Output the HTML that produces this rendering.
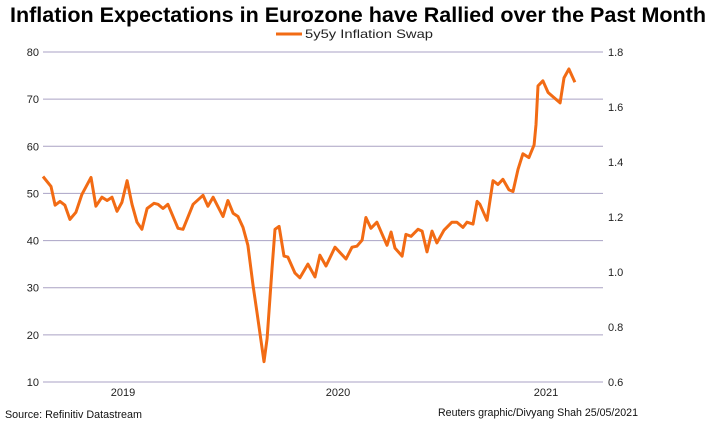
<!DOCTYPE html>
<html><head><meta charset="utf-8"><style>
html,body{margin:0;padding:0;background:#fff;}
svg{display:block;font-family:"Liberation Sans",Arial,sans-serif;}
</style></head><body>
<svg id="chart" width="716" height="441" viewBox="0 0 716 441" xmlns="http://www.w3.org/2000/svg">
<text x="10" y="22" font-size="21" font-weight="bold" textLength="696" lengthAdjust="spacingAndGlyphs" fill="#000">Inflation Expectations in Eurozone have Rallied over the Past Month</text>
<g>
<line x1="276" y1="34" x2="302" y2="34" stroke="#f26b14" stroke-width="3"/>
<text x="305" y="38" font-size="12" textLength="128" lengthAdjust="spacingAndGlyphs" fill="#222">5y5y Inflation Swap</text>
</g>
<g id="grid"></g>
<g id="ylab"></g>
<g id="ylab2"></g>
<g id="xlab"></g>
<g id="series"></g>
<text x="5" y="418" font-size="11" textLength="137" lengthAdjust="spacingAndGlyphs" fill="#111">Source: Refinitiv Datastream</text>
<text x="438" y="416" font-size="11" textLength="200" lengthAdjust="spacingAndGlyphs" fill="#111">Reuters graphic/Divyang Shah 25/05/2021</text>
</svg>
<script>
const leftTicks=[10,20,30,40,50,60,70,80];
const rightTicks=["0.6","0.8","1.0","1.2","1.4","1.6","1.8"];
const yearLabels=["2019","2020","2021"];
const times=[-.372,-.335,-.316,-.293,-.270,-.247,-.219,-.191,-.149,-.126,-.098,-.074,-.051,-.028,-.005,.019,.042,.065,.088,.112,.144,.163,.186,.209,.256,.279,.326,.372,.395,.419,.465,.488,.512,.535,.558,.581,.605,.623,.656,.670,.693,.707,.726,.749,.767,.800,.823,.860,.893,.916,.944,.986,1.037,1.065,1.088,1.112,1.130,1.153,1.181,1.228,1.247,1.265,1.298,1.316,1.340,1.372,1.391,1.414,1.437,1.460,1.493,1.530,1.553,1.581,1.600,1.628,1.647,1.660,1.693,1.721,1.744,1.767,1.795,1.814,1.837,1.860,1.888,1.912,1.921,1.930,1.953,1.977,2.0,2.033,2.051,2.074,2.102];
const values=[53.6,51.5,47.5,48.3,47.5,44.5,46,49.8,53.4,47.3,49.2,48.5,49.2,46.2,48.1,52.7,47.7,43.9,42.4,46.8,47.9,47.7,46.8,47.7,42.6,42.4,47.7,49.6,47.3,49.2,45.1,48.5,45.8,45.1,42.8,39,30.4,24.9,14.3,19.2,34,42.4,43,36.7,36.5,33.1,32.1,35,32.3,36.9,34.6,38.6,36.1,38.6,38.8,40.1,44.9,42.6,43.9,39,41.8,38.4,36.7,41.3,40.9,42.4,42,37.6,42,39.5,42.2,43.9,43.9,42.8,43.9,43.5,48.3,47.7,44.3,52.7,51.9,53,50.8,50.4,55.1,58.4,57.6,60.3,64.6,72.8,73.9,71.4,70.5,69.2,74.5,76.4,73.6];
const NS="http://www.w3.org/2000/svg";
const X0=43,X1=603,YT=52,YB=382;
const y=v=>YB-(v-10)/70*(YB-YT);
const yr=v=>YB-(v-0.6)/1.2*(YB-YT);
const x=t=>123+t*215;
function mk(tag,attrs,parent){const e=document.createElementNS(NS,tag);for(const k in attrs)e.setAttribute(k,attrs[k]);parent.appendChild(e);return e;}
const grid=document.getElementById('grid'),yl=document.getElementById('ylab'),yl2=document.getElementById('ylab2'),xl=document.getElementById('xlab'),ser=document.getElementById('series');
leftTicks.forEach(v=>{
 const l=mk('line',{x1:X0,x2:X1,y1:y(v),y2:y(v),stroke:'#aaa2c4','stroke-width':1},grid);
 
 
 const t=mk('text',{x:39,y:y(v)+4,'font-size':11,'text-anchor':'end',fill:'#222'},yl);t.textContent=v;
 
 
});
rightTicks.forEach(v=>{
 const t=mk('text',{x:608,y:yr(+v)+4,'font-size':11,fill:'#222'},yl2);t.textContent=v;
 
 
});
yearLabels.forEach((s,i)=>{
 const t=mk('text',{x:x(i)+(i==2?-7:0),y:396,'font-size':11,'text-anchor':'middle',fill:'#222'},xl);t.textContent=s;
 
 
});
const pts=times.map((t,i)=>x(t).toFixed(1)+','+y(values[i]).toFixed(1)).join(' ');
const pl=mk('polyline',{points:pts,fill:'none',stroke:'#f26b14','stroke-width':3,'stroke-linejoin':'round'},ser);


</script>
</body></html>
